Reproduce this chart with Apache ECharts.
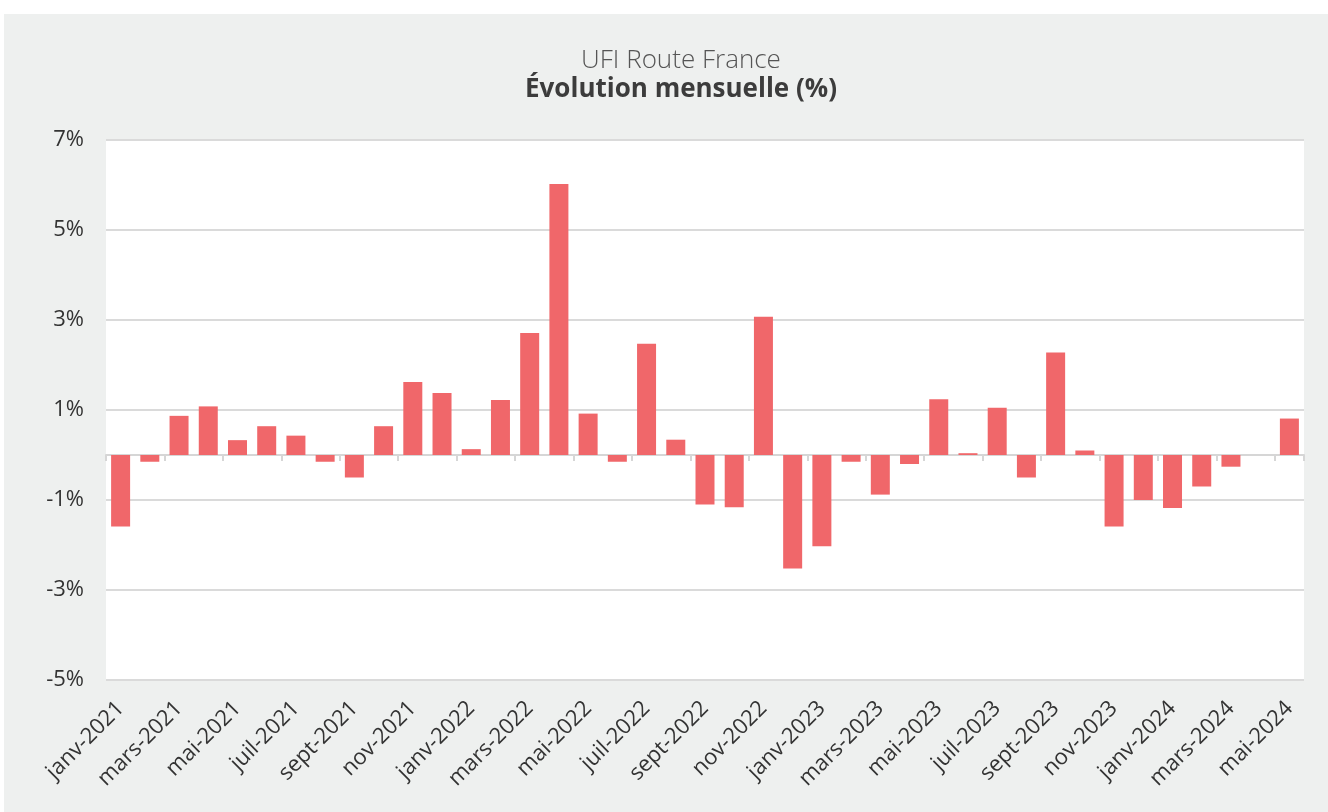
<!DOCTYPE html>
<html>
<head>
<meta charset="utf-8">
<script src="https://cdn.jsdelivr.net/npm/echarts@6/dist/echarts.min.js"></script>
<style>
  html, body { margin: 0; padding: 0; background: #ffffff; }
  #main_chart { position: absolute; left: 4px; top: 14px; width: 1324px; height: 798px; }
</style>
</head>
<body>
<div id="main_chart"></div>
<script>
// mois de janv-2021 à mai-2024
var months = ['janv', 'févr', 'mars', 'avr', 'mai', 'juin', 'juil', 'août', 'sept', 'oct', 'nov', 'déc'];
var years = ['2021', '2022', '2023', '2024'];
var categories = [];
years.forEach(function (y) {
    months.forEach(function (m, i) {
        if (y === '2024' && i > 4) return;
        categories.push(m + '-' + y);
    });
});

// évolution mensuelle en %
var values2021 = [-1.59, -0.15, 0.87, 1.08, 0.33, 0.64, 0.43, -0.15, -0.5, 0.64, 1.62, 1.38];
var values2022 = [0.13, 1.22, 2.71, 6.02, 0.92, -0.15, 2.47, 0.34, -1.1, -1.16, 3.07, -2.52];
var values2023 = [-2.03, -0.15, -0.88, -0.2, 1.24, 0.04, 1.05, -0.5, 2.28, 0.1, -1.59, -1.0];
var values2024 = [-1.18, -0.7, -0.26, 0, 0.81];
var values = values2021.concat(values2022, values2023, values2024);

var yTicks = { min: -5, max: 7, interval: 2 };

var FONT = '"Open Sans", "Noto Sans", sans-serif';

var myChart = echarts.init(document.getElementById('main_chart'));
myChart.setOption({
    backgroundColor: '#eef0ef',
    animation: false,
    title: [
        {
            text: 'UFI Route France',
            left: 672,
            top: 29,
            textAlign: 'center',
            textStyle: { fontFamily: FONT, fontWeight: 300, fontSize: 26, color: '#555555' }
        },
        {
            text: 'Évolution mensuelle (%)',
            left: 672,
            top: 58,
            textAlign: 'center',
            textStyle: { fontFamily: FONT, fontWeight: 'bold', fontSize: 26, color: '#3c3c3c' }
        }
    ],
    grid: {
        left: 102,
        right: 24,
        top: 126,
        bottom: 132,
        show: true,
        backgroundColor: '#ffffff',
        borderWidth: 0
    },
    xAxis: [
        {
            type: 'category',
            data: categories,
            position: 'bottom',
            axisLine: { show: false, onZero: false },
            axisTick: { show: false },
            axisLabel: {
                interval: 1,
                rotate: 45,
                margin: 25,
                fontFamily: FONT,
                fontSize: 22,
                color: '#333333'
            }
        },
        {
            type: 'category',
            data: categories,
            position: 'bottom',
            axisLine: { show: true, onZero: true, lineStyle: { color: '#d6d6d6', width: 2 } },
            axisTick: { show: true, interval: 1, length: 6, lineStyle: { color: '#d6d6d6', width: 2 } },
            axisLabel: { show: false }
        }
    ],
    yAxis: {
        type: 'value',
        min: yTicks.min,
        max: yTicks.max,
        interval: yTicks.interval,
        axisLine: { show: false },
        axisTick: { show: false },
        splitLine: { lineStyle: { color: '#dadada', width: 2 } },
        axisLabel: {
            margin: 22,
            fontFamily: FONT,
            fontSize: 22,
            color: '#333333',
            formatter: function (v) { return v + '%'; }
        }
    },
    series: [
        {
            name: 'Évolution mensuelle',
            type: 'bar',
            xAxisIndex: 0,
            data: values,
            barWidth: 19,
            itemStyle: {
                color: '#f0676a'
            }
        }
    ]
});
</script>
</body>
</html>
